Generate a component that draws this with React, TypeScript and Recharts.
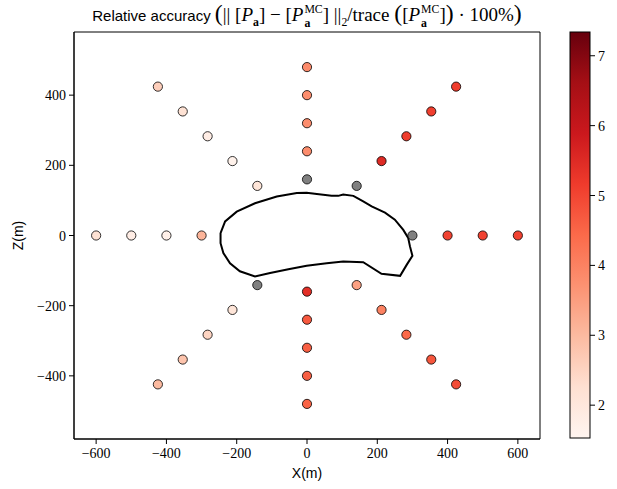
import React from 'react';
import { ScatterChart, Scatter, XAxis, YAxis, ReferenceArea, Cell } from 'recharts';

// Sample positions (m) and relative accuracy values (%); null = no value (gray)
const pointX = [300, 400, 500, 600, 141.4, 212.1, 282.8, 353.6, 424.3, 0, 0, 0, 0, 0,
  -141.4, -212.1, -282.8, -353.6, -424.3, -300, -400, -500, -600,
  -141.4, -212.1, -282.8, -353.6, -424.3, 0, 0, 0, 0, 0,
  141.4, 212.1, 282.8, 353.6, 424.3];
const pointZ = [0, 0, 0, 0, 141.4, 212.1, 282.8, 353.6, 424.3, 160, 240, 320, 400, 480,
  141.4, 212.1, 282.8, 353.6, 424.3, 0, 0, 0, 0,
  -141.4, -212.1, -282.8, -353.6, -424.3, -160, -240, -320, -400, -480,
  -141.4, -212.1, -282.8, -353.6, -424.3];
const pointValue: (number | null)[] = [null, 5.05, 5.05, 5.05, null, 5.5, 5.15, 5.1, 5.15, null, 3.8, 3.8, 3.8, 3.85,
  2.1, 1.65, 1.8, 2.2, 2.6, 3.1, 1.7, 1.8, 2.2,
  null, 2.1, 2.5, 2.8, 3.0, 5.4, 4.7, 4.6, 4.6, 4.55,
  3.45, 4.0, 4.45, 4.75, 4.9];

// Body outline (m)
const outlineX = [-246, -233, -200, -148, -86, -29, -1, 28, 70, 89, 103, 132, 160, 184, 222, 250, 274, 288, 293, 300, 284, 265, 212, 160, 103, 56, -1, -53, -105, -148, -191, -219, -238, -246, -246];
const outlineZ = [7, 40, 68, 92, 111, 121, 122, 118, 113, 113, 117, 113, 97, 83, 65, 45, 16, -7, -31, -58, -83, -115, -109, -76, -74, -79, -86, -96, -107, -117, -102, -79, -50, -22, 7];

const xTicks = [-600, -400, -200, 0, 200, 400, 600];
const yTicks = [-400, -200, 0, 200, 400];
const cbTicks = [2, 3, 4, 5, 6, 7];
const vMin = 1.53;
const vMax = 7.34;

const REDS = ['#fff5f0', '#fee0d2', '#fcbba1', '#fc9272', '#fb6a4a', '#ef3b2c', '#cb181d', '#a50f15', '#67000d'];

function hexToRgb(h: string) {
  return [parseInt(h.slice(1, 3), 16), parseInt(h.slice(3, 5), 16), parseInt(h.slice(5, 7), 16)];
}
function reds(t: number) {
  const c = Math.max(0, Math.min(1, t)) * (REDS.length - 1);
  const i = Math.min(REDS.length - 2, Math.floor(c));
  const f = c - i;
  const a = hexToRgb(REDS[i]);
  const b = hexToRgb(REDS[i + 1]);
  const m = a.map((v, k) => Math.round(v + (b[k] - v) * f));
  return `rgb(${m[0]},${m[1]},${m[2]})`;
}
function colorOf(v: number | null) {
  if (v === null) return '#808080';
  return reds((v - vMin) / (vMax - vMin));
}

const points = pointX.map((x, i) => ({ x, z: pointZ[i], v: pointValue[i] }));
const outline = outlineX.map((x, i) => ({ x, z: outlineZ[i] }));

const fmt = (v: number) => (v < 0 ? '\u2212' + Math.abs(v) : String(v));
const serif = 'Liberation Serif, DejaVu Serif, serif';
const sans = 'Liberation Sans, DejaVu Sans, sans-serif';

const Dot = (props: any) => (
  <circle cx={props.cx} cy={props.cy} r={4.6} fill={props.fill} stroke="#000" strokeWidth={0.8} />
);

const XTick = (props: any) => (
  <text x={props.x} y={props.y} dy={11} textAnchor="middle" style={{ fontFamily: serif, fontSize: 14 }} fill="#000">
    {fmt(props.payload.value)}
  </text>
);
const YTick = (props: any) => (
  <text x={props.x} y={props.y} dy={5} textAnchor="end" style={{ fontFamily: serif, fontSize: 14 }} fill="#000">
    {fmt(props.payload.value)}
  </text>
);

const Stack = ({ sup, sub }: { sup: string; sub: string }) => (
  <span style={{ display: 'inline-flex', flexDirection: 'column', verticalAlign: 'middle', fontSize: '0.62em', lineHeight: 1.15, marginLeft: 1 }}>
    <span>{sup}</span>
    <span style={{ fontWeight: 'bold' }}>{sub}</span>
  </span>
);
const Sub = ({ children, bold }: { children: React.ReactNode; bold?: boolean }) => (
  <sub style={{ fontSize: '0.62em', fontWeight: bold ? 'bold' : 'normal' }}>{children}</sub>
);

const CB_TOP = 32;
const CB_BOTTOM = 438;
const cbY = (v: number) => CB_BOTTOM - ((v - vMin) / (vMax - vMin)) * (CB_BOTTOM - CB_TOP);

const big = { fontSize: '1.25em' };

export default function App() {
  const stops = REDS.map((c, i) => ({ off: i / (REDS.length - 1), c }));
  return (
    <div style={{ position: 'absolute', left: 0, top: 0, width: 617, height: 489, background: '#fff' }}>
      <ScatterChart width={617} height={489} margin={{ top: 32, right: 77, bottom: 0, left: 14 }}>
        <XAxis type="number" dataKey="x" domain={[-663, 663]} ticks={xTicks} allowDataOverflow
          tickSize={5} tickMargin={3} height={50} tick={<XTick />}
          axisLine={{ stroke: '#000' }} tickLine={{ stroke: '#000' }}
          label={{ value: 'X(m)', position: 'insideBottom', offset: 11, style: { fontFamily: sans, fontSize: 14, fill: '#000' } }} />
        <YAxis type="number" dataKey="z" domain={[-580, 580]} ticks={yTicks} allowDataOverflow
          tickSize={5} tickMargin={3} width={60} tick={<YTick />}
          axisLine={{ stroke: '#000' }} tickLine={{ stroke: '#000' }}
          label={{ value: 'Z(m)', angle: -90, position: 'insideLeft', offset: 4, style: { fontFamily: sans, fontSize: 14, fill: '#000', textAnchor: 'middle' } }} />
        <ReferenceArea x1={-663} x2={663} y1={-580} y2={580} fill="none" stroke="#000" strokeWidth={1} ifOverflow="visible" />
        <Scatter data={outline} line={{ stroke: '#000', strokeWidth: 2 }} lineType="joint" shape={() => <g />} isAnimationActive={false} legendType="none" />
        <Scatter data={points} shape={Dot} isAnimationActive={false}>
          {points.map((p, i) => <Cell key={i} fill={colorOf(p.v)} />)}
        </Scatter>
      </ScatterChart>
      <div style={{ position: 'absolute', left: 0, top: 0, width: 614, height: 30, display: 'flex', alignItems: 'center', justifyContent: 'center', color: '#000', whiteSpace: 'nowrap' }}>
        <span style={{ fontFamily: sans, fontSize: 15 }}>Relative accuracy&nbsp;</span>
        <span style={{ fontFamily: serif, fontSize: 19 }}>
          <span style={big}>(</span>|| [<i>P</i><Sub bold>a</Sub>] − [<i>P</i><Stack sup="MC" sub="a" />] ||<Sub>2</Sub>/trace <span style={big}>(</span>[<i>P</i><Stack sup="MC" sub="a" />]<span style={big}>)</span> · 100%<span style={big}>)</span>
        </span>
      </div>
      <svg style={{ position: 'absolute', left: 0, top: 0 }} width={617} height={489}>
        <defs>
          <linearGradient id="cbgrad" x1="0" y1="1" x2="0" y2="0">
            {stops.map((s, i) => <stop key={i} offset={s.off} stopColor={s.c} />)}
          </linearGradient>
        </defs>
        <rect x={570} y={CB_TOP} width={20} height={CB_BOTTOM - CB_TOP} fill="url(#cbgrad)" stroke="#000" strokeWidth={1} />
        {cbTicks.map((t) => (
          <g key={t}>
            <line x1={590} x2={595} y1={cbY(t)} y2={cbY(t)} stroke="#000" />
            <text x={598} y={cbY(t)} dy={5} style={{ fontFamily: serif, fontSize: 14 }} fill="#000">{t}</text>
          </g>
        ))}
      </svg>
    </div>
  );
}
